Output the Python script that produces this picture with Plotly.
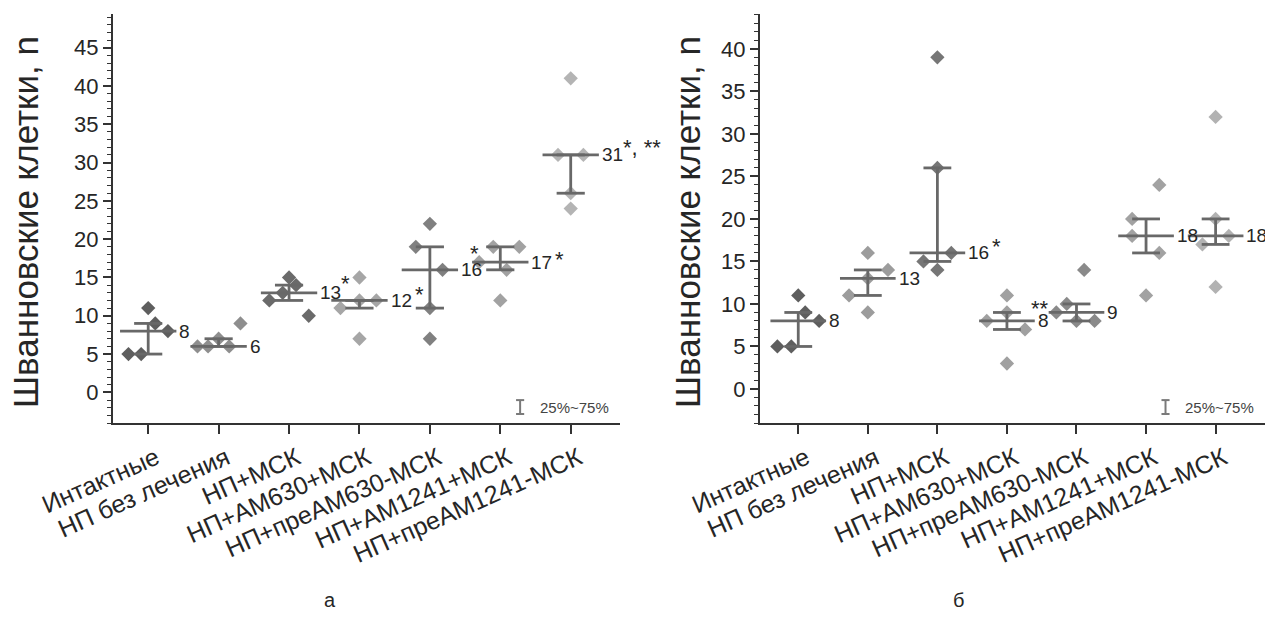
import plotly.graph_objects as go

# ---------------- data ----------------
categories = ["Интактные", "НП без лечения", "НП+МСК", "НП+АМ630+МСК",
              "НП+преАМ630-МСК", "НП+АМ1241+МСК", "НП+преАМ1241-МСК"]

a_points = [[5, 5, 11, 9, 8], [6, 6, 7, 6, 9], [12, 13, 15, 14, 10], [11, 15, 12, 12, 7],
            [22, 19, 16, 11, 7], [17, 19, 19, 16, 12], [41, 31, 31, 26, 24]]
a_median = [8, 6, 13, 12, 16, 17, 31]
a_q1 = [5, 6, 12, 11, 11, 16, 26]
a_q3 = [9, 7, 14, 12, 19, 19, 31]
a_labels = ["8", "6", "13", "12", "16", "17", "31"]
a_marks = ["", "", "*", "*", "*", "*", "*, **"]

b_points = [[5, 5, 11, 9, 8], [11, 16, 13, 14, 9], [39, 26, 15, 16, 14], [11, 9, 8, 7, 3],
            [9, 10, 14, 8, 8], [20, 18, 24, 16, 11], [32, 20, 17, 18, 12]]
b_median = [8, 13, 16, 8, 9, 18, 18]
b_q1 = [5, 11, 15, 7, 8, 16, 17]
b_q3 = [9, 14, 26, 9, 10, 20, 20]
b_labels = ["8", "13", "16", "8", "9", "18", "18"]
b_marks = ["", "", "*", "**", "", "", ""]

y_title = "Шванновские клетки, n"
legend_text = "25%~75%"
panel_letters = ["а", "б"]

# ---------------- style / layout helpers ----------------
a_jitter = [[-0.28, -0.1, 0, 0.1, 0.28], [-0.3, -0.15, 0, 0.15, 0.31], [-0.28, -0.09, 0, 0.1, 0.28],
            [-0.27, 0, 0, 0.24, 0], [0, -0.2, 0.18, 0, 0], [-0.3, -0.1, 0.27, 0.09, 0],
            [0, -0.18, 0.18, 0, 0]]
b_jitter = [[-0.3, -0.1, 0, 0.1, 0.3], [-0.27, 0, 0, 0.29, 0], [0, 0, -0.2, 0.2, 0],
            [0, 0, -0.29, 0.26, 0], [-0.29, -0.14, 0.11, 0, 0.26], [-0.2, -0.2, 0.19, 0.19, 0],
            [0, 0, -0.19, 0.19, 0]]
a_colors = ["#5e5e5e", "#8e8e8e", "#6a6a6a", "#a6a6a6", "#808080", "#a2a2a2", "#b4b4b4"]
b_colors = ["#5e5e5e", "#9c9c9c", "#767676", "#a0a0a0", "#8a8a8a", "#a2a2a2", "#b2b2b2"]
# star offsets (px) relative to the right end of the median line
a_mark_shift = [(0, 0), (0, 0), (22, 13), (25, 10), (10, 20), (25, 7), (22, 11)]
b_mark_shift = [(0, 0), (0, 0), (25, 10), (-6, 16), (0, 0), (0, 0), (0, 0)]

W, H = 1265, 625
LINE_COL = "#686868"
TXT = "#262626"
FONT = "Liberation Sans, Arial, sans-serif"
HALF_MED = 0.4
HALF_CAP = 0.2

fig = go.Figure()

panels = [
    dict(points=a_points, med=a_median, q1=a_q1, q3=a_q3, labels=a_labels, marks=a_marks,
         jitter=a_jitter, colors=a_colors, shift=a_mark_shift, xa="x", ya="y"),
    dict(points=b_points, med=b_median, q1=b_q1, q3=b_q3, labels=b_labels, marks=b_marks,
         jitter=b_jitter, colors=b_colors, shift=b_mark_shift, xa="x2", ya="y2"),
]

annotations = []
for p in panels:
    for i, vals in enumerate(p["points"]):
        fig.add_trace(go.Scatter(
            x=[i + j for j in p["jitter"][i]], y=vals, mode="markers",
            marker=dict(symbol="diamond", size=11, color=p["colors"][i], line=dict(width=0)),
            xaxis=p["xa"], yaxis=p["ya"], showlegend=False, hoverinfo="y"))
    for i in range(len(p["med"])):
        m, lo, hi = p["med"][i], p["q1"][i], p["q3"][i]
        xs = [i - HALF_MED, i + HALF_MED, None, i - HALF_CAP, i + HALF_CAP, None,
              i - HALF_CAP, i + HALF_CAP, None, i, i]
        ys = [m, m, None, lo, lo, None, hi, hi, None, lo, hi]
        fig.add_trace(go.Scatter(x=xs, y=ys, mode="lines",
                                 line=dict(color=LINE_COL, width=2.8),
                                 xaxis=p["xa"], yaxis=p["ya"], showlegend=False,
                                 hoverinfo="skip", connectgaps=False))
        annotations.append(dict(x=i + HALF_MED, y=m, xref=p["xa"], yref=p["ya"],
                                text=p["labels"][i], showarrow=False, xanchor="left",
                                yanchor="middle", xshift=1,
                                font=dict(size=19, color=TXT, family=FONT)))
        if p["marks"][i]:
            dx, dy = p["shift"][i]
            annotations.append(dict(x=i + HALF_MED, y=m, xref=p["xa"], yref=p["ya"],
                                    text=p["marks"][i], showarrow=False, xanchor="left",
                                    yanchor="middle", xshift=dx, yshift=dy - 4,
                                    font=dict(size=22, color=TXT, family=FONT)))

# legend icon + text, y-titles, panel letters
shapes = []
for xa, ya in (("x", "y"), ("x2", "y2")):
    xd, yd = xa + " domain", ya + " domain"
    lc = dict(color="#7a7a7a", width=2)
    shapes.append(dict(type="line", xref=xd, yref=yd, x0=0.803, x1=0.803, y0=0.022, y1=0.056, line=lc))
    shapes.append(dict(type="line", xref=xd, yref=yd, x0=0.795, x1=0.811, y0=0.022, y1=0.022, line=lc))
    shapes.append(dict(type="line", xref=xd, yref=yd, x0=0.795, x1=0.811, y0=0.056, y1=0.056, line=lc))
    annotations.append(dict(x=0.838, y=0.039, xref=xd, yref=yd, text=legend_text,
                            showarrow=False, xanchor="left", yanchor="middle",
                            font=dict(size=15, color="#444", family=FONT)))

for xc in (26, 688):
    annotations.append(dict(x=xc / W, y=(H - 222) / H, xref="paper", yref="paper",
                            text=y_title, textangle=-90, showarrow=False,
                            xanchor="center", yanchor="middle",
                            font=dict(size=35, color=TXT, family=FONT)))
for xc, letter in zip((330, 958), panel_letters):
    annotations.append(dict(x=xc / W, y=(H - 600) / H, xref="paper", yref="paper",
                            text=letter, showarrow=False, xanchor="center", yanchor="middle",
                            font=dict(size=20, color=TXT, family=FONT)))

y_dom = [(H - 423) / H, (H - 14) / H]

def xaxis_cfg(dom, rng, anchor):
    return dict(domain=dom, range=rng, anchor=anchor, automargin=False,
                tickmode="array", tickvals=list(range(len(categories))),
                ticktext=categories, tickangle=-24, ticklabelshift=8,
                ticks="outside", ticklen=9, tickwidth=1.5,
                tickcolor="#333", showline=True, linecolor="#333", linewidth=2,
                showgrid=False, zeroline=False,
                tickfont=dict(size=25, color=TXT, family=FONT))

def yaxis_cfg(anchor, rng):
    return dict(domain=y_dom, range=rng, anchor=anchor, automargin=False,
                dtick=5, tick0=0, ticks="outside",
                ticklen=8, tickwidth=1.5, tickcolor="#333", showline=True, linecolor="#333",
                linewidth=2, showgrid=False, zeroline=False,
                minor=dict(dtick=1, tick0=0, ticks="outside", ticklen=4, tickwidth=1,
                           tickcolor="#333", showgrid=False),
                tickfont=dict(size=22, color=TXT, family=FONT))

fig.update_layout(
    width=W, height=H, margin=dict(l=0, r=0, t=0, b=0, autoexpand=False),
    paper_bgcolor="white", plot_bgcolor="white",
    xaxis=xaxis_cfg([113 / W, 620 / W], [-0.5, 6.7], "y"),
    yaxis=yaxis_cfg("x", [-4, 49.4]),
    xaxis2=xaxis_cfg([760 / W, 1.0], [-0.55, 6.71], "y2"),
    yaxis2=yaxis_cfg("x2", [-4, 44.1]),
    annotations=annotations, shapes=shapes,
)

fig.write_html("out.html")
